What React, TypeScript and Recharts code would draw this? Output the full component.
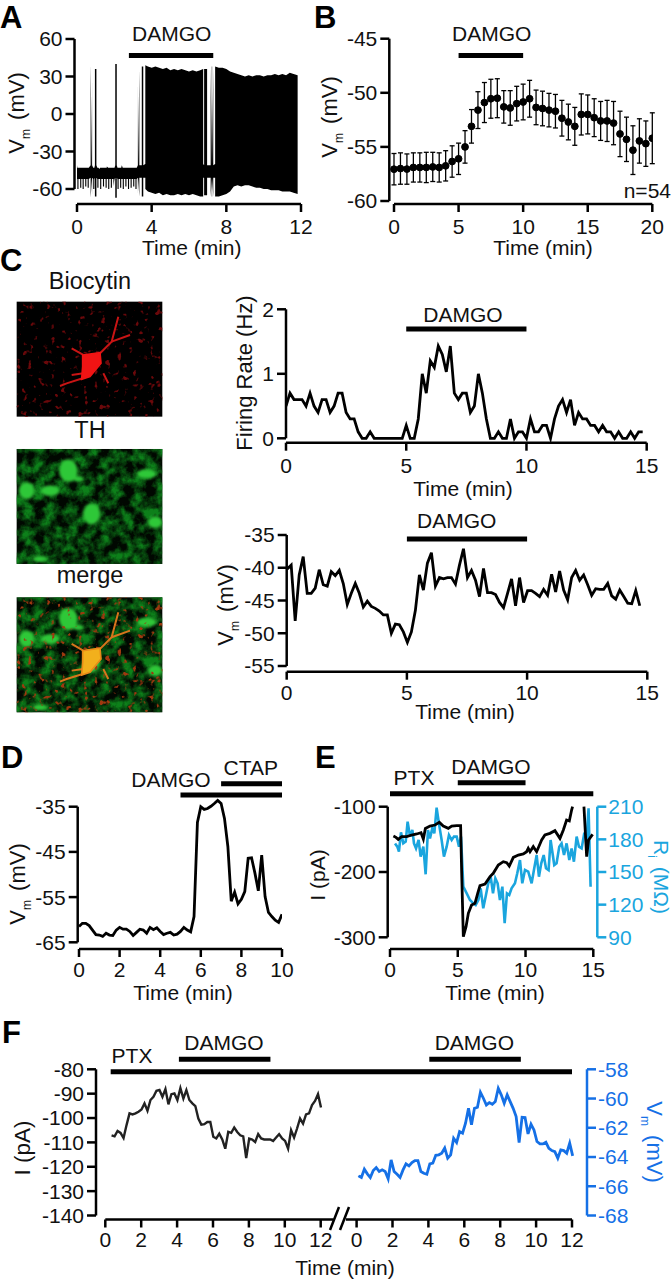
import React from "react";
import { Area, ComposedChart, ErrorBar, Line, ReferenceLine, XAxis, YAxis } from "recharts";

const FONT = "'Liberation Sans', Arial, sans-serif";
const INK = "#111";
const SKY = "#1AA5DE";
const BLUE = "#1570E6";
const TIME_STEP = 1 / 6;

// panel A: envelope of the voltage trace
const aBandTimes = [0, 0.4, 0.8, 1.2, 1.6, 2, 2.4, 2.8, 3.2, 3.27, 3.66, 3.66, 3.8, 4, 4.2, 4.4, 4.6, 4.8, 5, 5.2, 5.4, 5.6, 5.8, 6, 6.2, 6.4, 6.6, 6.76, 6.76, 7.4, 7.4, 7.6, 7.8, 8, 8.2, 8.4, 8.6, 8.8, 9, 9.2, 9.4, 9.6, 9.8, 10, 10.2, 10.4, 10.6, 10.8, 11, 11.2, 11.4, 11.6, 11.82];
const aBandLows = [-52, -52, -52, -52, -52, -52, -52, -52, -52, -51, -51, -60, -62, -63, -64, -63, -65, -64, -65, -65, -64, -65, -64, -65, -64, -65, -66, -66, -51, -51, -66, -66, -65, -64, -62, -58, -57, -58, -57, -57, -58, -59, -59, -60, -60, -61, -61, -61, -62, -62, -62, -63, -64];
const aBandHighs = [-41, -43, -43, -44, -42, -43, -41, -43, -43, -42, -40, 39, 38, 37, 38, 37, 36, 37, 35, 36, 35, 36, 35, 34, 35, 34, 35, 36, -40, -40, 38, 37, 37, 36, 34, 33, 32, 31, 30, 31, 30, 31, 31, 30, 31, 31, 32, 31, 32, 31, 33, 32, 31];
const aSpikeTimes = [0.77, 1, 2.09, 3.3, 3.51, 6.85, 6.93, 7.2, 7.26];
const aSpikeLows = [-67, -66, -67, -66, -66, -65, -65, -66, -66];
const aSpikeHighs = [40, 36, 40, 36, 38, 36, 36, 38, 38];
const aDipTimes = [0.05, 0.2, 0.33, 0.47, 0.6, 0.9, 1.12, 1.27, 1.42, 1.56, 1.7, 1.84, 1.98, 2.2, 2.34, 2.48, 2.62, 2.76, 2.9, 3.04, 3.16];
const aDipLows = [-60, -59, -60, -58, -59, -60, -59, -60, -58, -59, -60, -59, -58, -60, -59, -60, -58, -60, -59, -58, -60];

// panel B: mean +/- SEM every 30 s
const bTimes = [0, 0.5, 1, 1.5, 2, 2.5, 3, 3.5, 4, 4.5, 5, 5.5, 6, 6.5, 7, 7.5, 8, 8.5, 9, 9.5, 10, 10.5, 11, 11.5, 12, 12.5, 13, 13.5, 14, 14.5, 15, 15.5, 16, 16.5, 17, 17.5, 18, 18.5, 19, 19.5, 20];
const bVm = [-57.06, -57, -57.05, -56.9, -56.9, -56.9, -56.85, -56.9, -56.75, -56.35, -56.1, -55, -53.1, -51.6, -50.9, -50.55, -50.5, -51.3, -51.4, -51, -50.85, -50.55, -51.35, -51.45, -51.6, -51.7, -52.35, -52.7, -53.1, -52, -52, -52.3, -52.6, -52.6, -52.8, -53.8, -54.3, -55.3, -54.45, -54.7, -54.2];
const bSem = [1.45, 1.45, 1.4, 1.35, 1.35, 1.4, 1.35, 1.35, 1.4, 1.45, 1.45, 1.5, 1.55, 1.7, 1.85, 1.8, 1.8, 1.5, 1.6, 1.6, 1.65, 1.7, 1.6, 1.6, 1.55, 1.55, 1.65, 1.65, 1.75, 1.9, 1.8, 1.75, 1.8, 1.9, 2, 2.1, 2.05, 2.25, 2.05, 2.1, 2.35];

// panel C
const cRate = [0.5, 0.7, 0.6, 0.6, 0.6, 0.5, 0.7, 0.5, 0.4, 0.6, 0.6, 0.4, 0.5, 0.7, 0.7, 0.4, 0.3, 0.3, 0.1, 0, 0, 0.1, 0, 0, 0, 0, 0, 0, 0, 0, 0.2, 0, 0, 0.3, 1, 0.7, 1.2, 1.1, 1.43, 1.3, 1.03, 1.43, 0.7, 0.6, 0.7, 0.7, 0.4, 0.5, 1, 0.7, 0.3, 0, 0, 0.1, 0, 0, 0.3, 0, 0.1, 0.1, 0, 0.3, 0.1, 0.1, 0.2, 0.2, 0, 0.3, 0.5, 0.6, 0.4, 0.6, 0.2, 0.4, 0.3, 0.3, 0.2, 0.2, 0.1, 0.2, 0.1, 0.1, 0, 0.1, 0, 0, 0.1, 0, 0.1, 0.1];
const cVm = [-40.2, -39.6, -48.1, -41.1, -38.3, -43.9, -43.9, -43.1, -40.3, -42.6, -42.8, -40.6, -41.2, -40.4, -42.4, -45.6, -43.9, -42.4, -43.9, -46, -45.1, -45.9, -46.2, -46.6, -47.2, -47.2, -50, -48.6, -48.7, -49.8, -51.4, -49.8, -46.5, -41.1, -43.4, -39.3, -37.7, -42.8, -41.5, -41.7, -41.5, -41.5, -42.5, -39.6, -37.1, -41.5, -40.4, -41.9, -44.4, -40.1, -43.8, -43.8, -44.1, -45.3, -46.1, -43.9, -41.7, -45.8, -41.5, -45.3, -43.5, -43.5, -43.9, -44.4, -43.3, -44.2, -41, -43.7, -40.5, -43.4, -44.9, -41.5, -40.4, -41.9, -41.1, -42.6, -44.2, -43.2, -43.3, -43.3, -42.4, -44.3, -44.8, -43.4, -44.4, -45.4, -45.5, -43.5, -45.8];

// panel D
const dVm = [-61.5, -60.8, -60.8, -61.3, -62.3, -63.3, -63.4, -63.7, -63, -63.4, -63.5, -62.3, -61.7, -62.1, -62.1, -62.6, -63.5, -62.8, -62.1, -62.3, -63, -61.7, -62.2, -61.8, -62.6, -63.3, -63, -62.8, -63.4, -63.2, -62.6, -61.7, -62.3, -62.7, -59.3, -38.5, -35, -35.6, -35.4, -34.9, -34.3, -33.6, -34.3, -37.6, -43.8, -55.9, -53.9, -56.5, -55.5, -53.8, -46.4, -46.3, -49.7, -53.6, -45.7, -54.9, -58.4, -59.3, -60.1, -60.6, -58.8];

// panel E
const eCurrentTimes = [0.25, 0.44, 0.61, 0.86, 1.23, 1.6, 1.97, 2.29, 2.46, 2.61, 2.95, 3.32, 3.64, 3.93, 4.3, 4.55, 4.92, 5.21, 5.29, 5.41, 5.61, 5.78, 6.02, 6.27, 6.47, 6.64, 7.01, 7.38, 7.62, 7.99, 8.36, 8.61, 8.8, 9.1, 9.47, 9.84, 10.08, 10.2, 10.33, 10.57, 10.82, 11.19, 11.43, 11.8, 12.17, 12.54, 12.79, 13.03, 13.23, 13.4, 13.47, 14, 14.31, 14.51, 14.65, 14.95];
const eCurrent = [-144.9, -146.9, -150, -145.9, -145.9, -143.4, -141.8, -139.8, -149.5, -133.2, -129.6, -128.1, -124, -129.6, -133.2, -129.6, -129.1, -129.1, -202, -299, -283.7, -263.3, -250.5, -248, -232.7, -220.9, -218.4, -207.1, -202, -189.3, -184.2, -185.7, -190.8, -177.6, -174, -172.4, -168.9, -163.8, -168.9, -161.2, -168.9, -151, -143.4, -140.8, -136.7, -148.5, -135.7, -120.4, -121.9, -105.1, -100, null, -100, -176.5, -151, -142.3];
const eRiTimes = [0.37, 0.54, 0.66, 0.81, 0.98, 1.16, 1.3, 1.48, 1.65, 1.77, 1.92, 2.11, 2.26, 2.46, 2.63, 2.8, 2.95, 3.12, 3.27, 3.44, 3.61, 3.81, 3.98, 4.18, 4.35, 4.55, 4.72, 4.92, 5.09, 5.24, 5.41, 5.66, 5.9, 6.15, 6.32, 6.52, 6.69, 6.88, 7.08, 7.25, 7.43, 7.6, 7.77, 7.94, 8.11, 8.29, 8.46, 8.63, 8.8, 8.97, 9.22, 9.39, 9.59, 9.76, 9.96, 10.2, 10.45, 10.62, 10.82, 10.99, 11.16, 11.34, 11.51, 11.7, 11.85, 12.12, 12.29, 12.49, 12.66, 12.84, 13.03, 13.23, 13.4, 13.57, 13.77, 13.94, 14.14, 14.31, 14.51, 14.65, 14.8];
const eRi = [176.3, 173.3, 168.7, 186.4, 176.3, 177.9, 196.2, 182.5, 188.6, 176.3, 171.7, 179.4, 164.1, 173.3, 147.9, 188.6, 180.9, 190.1, 185.5, 209.1, 194.7, 179.4, 164.1, 173.3, 184, 179.4, 182.5, 182.5, 173.3, 182.5, 136.5, 130.4, 124.3, 121.2, 119.7, 124.3, 135, 116.6, 128.9, 139.6, 145.7, 130.4, 144.2, 139.6, 124.3, 136.5, 102.9, 130.4, 128.9, 135, 139.6, 148.8, 161, 139.6, 151.8, 150.3, 139.6, 151.8, 165.6, 145.7, 158, 165.6, 153.4, 151.8, 179.4, 156.4, 158, 173.3, 176.3, 165.6, 176.3, 161, 171.7, 159.5, 182.5, 173.3, 171.7, 184, 180.9, 208.5, 136.5];

// panel F: the second half sits on the same time axis, shifted past the break
const F_BREAK_SHIFT = 14;
const fTicks = [0, 2, 4, 6, 8, 10, 12, 14, 16, 18, 20, 22, 24, 26];
const fCurrent = [-107.1, -107.5, -105.3, -106.1, -108.2, -102.9, -98.1, -98.5, -98.1, -97.4, -96.5, -94, -97, -92.6, -91.3, -88.8, -88.5, -91.3, -88.1, -94.4, -90.2, -89.9, -92.6, -87.7, -92, -88.5, -92.6, -94, -95.1, -100.2, -102.7, -102.5, -101.6, -101.6, -107.7, -108.4, -106.4, -108.8, -112.6, -105.7, -106.1, -103.9, -105.7, -107.1, -107.5, -116.4, -108.4, -108.8, -109.8, -106.6, -108.4, -108.8, -108.8, -108.8, -109.4, -108, -106.6, -108.4, -109.4, -112.6, -105, -108, -104.3, -100.2, -102.3, -98.5, -98.1, -94.7, -93, -90.2, -95.7];
const fVm = [-65.29, -65.4, -64.83, -65.15, -65.4, -64.92, -64.72, -64.99, -64.88, -64.99, -65.49, -64.2, -64.99, -65.18, -65.4, -64.88, -64.47, -64.61, -64.38, -64.24, -64.24, -64.99, -65.11, -65.18, -64.47, -64.42, -63.88, -63.85, -63.74, -63.38, -64.08, -63.85, -62.72, -63.01, -62.26, -62.37, -61.69, -60.67, -61.8, -60.67, -60.6, -59.57, -59.98, -60.44, -60.28, -60.39, -60.21, -59.3, -59.75, -60.32, -59.75, -60.21, -60.67, -61.23, -63.01, -61.28, -61.3, -62.42, -61.76, -62.15, -62.94, -63.1, -63.1, -62.99, -63.4, -63.56, -63.63, -64.08, -63.51, -63.56, -63.74, -63.06, -63.92];

const zip = (times: number[], values: (number | null)[]) => times.map((t, i) => ({ t, v: values[i] }));
const sampled = (values: number[], start: number, step: number) =>
  values.map((v, i) => ({ t: start + i * step, v }));

// solid envelope + thin spikes/dips, all one range area
const buildARows = () => {
  const rows: { t: number; band: number[] }[] = aBandTimes.map((t, i) => ({ t, band: [aBandLows[i], aBandHighs[i]] }));
  const pulse = (t: number, lo: number, hi: number, baseLo: number, baseHi: number, half: number) => {
    rows.push({ t: t - half, band: [baseLo, baseHi] }, { t: t - half, band: [lo, hi] }, { t: t + half, band: [lo, hi] }, { t: t + half, band: [baseLo, baseHi] });
  };
  aDipTimes.forEach((t, i) => pulse(t, aDipLows[i], -43, -52, -43, 0.03));
  aSpikeTimes.forEach((t, i) => pulse(t, aSpikeLows[i], aSpikeHighs[i], -51, -41, 0.04));
  return rows.map((r, i) => ({ r, i })).sort((a, b) => a.r.t - b.r.t || a.i - b.i).map(({ r }) => r);
};

type Geom = {
  axisX: number; // px of the left axis line
  axisY: number; // px of the time axis line
  top: number; // px of the top of the plot region
  x0: number; x1: number; t0: number; t1: number;
  yTop: number; yBot: number; vTop: number; vBot: number;
  rightX?: number; rTop?: number; rBot?: number;
};

const scaleOf = (g: Geom) => {
  const right = g.rightX ?? g.x1;
  const tAt = (px: number) => g.t0 + ((px - g.x0) * (g.t1 - g.t0)) / (g.x1 - g.x0);
  const vAt = (px: number) => g.vTop + ((px - g.yTop) * (g.vBot - g.vTop)) / (g.yBot - g.yTop);
  const rAt = (px: number) => g.rTop! + ((px - g.yTop) * (g.rBot! - g.rTop!)) / (g.yBot - g.yTop);
  return { right, tAt, vAt, rAt };
};

function Panel({ g, xTicks, yTicks, rTicks, rColor, tickGap = 5, data, format, children }: {
  g: Geom; xTicks: number[]; yTicks: number[]; rTicks?: number[]; rColor?: string; tickGap?: number;
  data?: object[]; format?: (t: number) => string; children: React.ReactNode;
}) {
  const { right, tAt, vAt, rAt } = scaleOf(g);
  const tick = { fill: INK, fontSize: 21, fontFamily: FONT };
  const axisStroke = { stroke: "#000", strokeWidth: 2.5 };
  const vMin = vAt(g.axisY);
  return (
    <div style={{ position: "absolute", left: 0, top: 0 }}>
      <ComposedChart
        width={672}
        height={1280}
        data={data}
        margin={{ left: g.axisX - 60, top: g.top, right: 672 - right - (rTicks ? 60 : 0), bottom: 1280 - g.axisY - 60 }}
      >
        <XAxis
          dataKey="t"
          type="number"
          allowDataOverflow
          domain={[tAt(g.axisX), tAt(right)]}
          ticks={xTicks}
          interval={0}
          height={60}
          axisLine={false}
          tickLine={axisStroke}
          tickSize={8}
          tickMargin={tickGap}
          tick={tick}
          tickFormatter={format}
        />
        <YAxis
          yAxisId="left"
          type="number"
          allowDataOverflow
          domain={[vMin, vAt(g.top)]}
          ticks={yTicks}
          interval={0}
          width={60}
          axisLine={false}
          tickLine={axisStroke}
          tickSize={9}
          tickMargin={3}
          tick={tick}
        />
        {rTicks && (
          <YAxis
            yAxisId="right"
            orientation="right"
            type="number"
            allowDataOverflow
            domain={[rAt(g.axisY), rAt(g.top)]}
            ticks={rTicks}
            interval={0}
            width={60}
            axisLine={false}
            tickLine={{ stroke: rColor, strokeWidth: 2.5 }}
            tickSize={9}
            tickMargin={2}
            tick={{ ...tick, fill: rColor }}
          />
        )}
        <ReferenceLine yAxisId="left" ifOverflow="visible" stroke="#000" strokeWidth={2.5} segment={[{ x: tAt(g.axisX), y: g.vTop }, { x: tAt(g.axisX), y: g.vBot }]} />
        {rTicks && (
          <ReferenceLine yAxisId="right" ifOverflow="visible" stroke={rColor} strokeWidth={2.5} segment={[{ x: tAt(right), y: g.rTop! }, { x: tAt(right), y: g.rBot! }]} />
        )}
        {children}
      </ComposedChart>
    </div>
  );
}

const timeAxis = (g: Geom, from: number, to: number) => {
  const { vAt } = scaleOf(g);
  const v = vAt(g.axisY);
  return <ReferenceLine key={`axis-${from}`} yAxisId="left" ifOverflow="visible" stroke="#000" strokeWidth={2.5} segment={[{ x: from, y: v }, { x: to, y: v }]} />;
};

const drugBar = (g: Geom, t0: number, t1: number, yPx: number) => {
  const { vAt } = scaleOf(g);
  const v = vAt(yPx);
  return <ReferenceLine key={`drug-${t0}-${yPx}`} yAxisId="left" ifOverflow="visible" stroke="#000" strokeWidth={5} segment={[{ x: t0, y: v }, { x: t1, y: v }]} />;
};

const traceLine = (rows: object[], color: string, axis = "left", width = 2.8) => (
  <Line data={rows} dataKey="v" yAxisId={axis} stroke={color} strokeWidth={width} dot={false} isAnimationActive={false} strokeLinejoin="miter" connectNulls={false} type="linear" />
);

const gA: Geom = { axisX: 74.5, axisY: 204, top: 20, x0: 77, x1: 301, t0: 0, t1: 12, yTop: 39, yBot: 189, vTop: 60, vBot: -60 };
const gB: Geom = { axisX: 389.3, axisY: 204, top: 20, x0: 394, x1: 652.3, t0: 0, t1: 20, yTop: 38.7, yBot: 201, vTop: -45, vBot: -60 };
const gC1: Geom = { axisX: 286, axisY: 442.7, top: 300, x0: 286, x1: 646.7, t0: 0, t1: 15, yTop: 309.3, yBot: 438.3, vTop: 2, vBot: 0 };
const gC2: Geom = { axisX: 286.7, axisY: 671.7, top: 520, x0: 286.7, x1: 647.3, t0: 0, t1: 15, yTop: 535, yBot: 666, vTop: -35, vBot: -55 };
const gD: Geom = { axisX: 77.7, axisY: 949, top: 770, x0: 79, x1: 282, t0: 0, t1: 10, yTop: 806.7, yBot: 942.3, vTop: -35, vBot: -65 };
const gE: Geom = { axisX: 387.7, axisY: 949, top: 770, x0: 390, x1: 593.3, t0: 0, t1: 15, yTop: 806.7, yBot: 937.3, vTop: -100, vBot: -300, rightX: 597.3, rTop: 210, rBot: 90 };
const gF: Geom = { axisX: 96, axisY: 1219.5, top: 1050, x0: 105.3, x1: 572, t0: 0, t1: 26, yTop: 1069.3, yBot: 1215.5, vTop: -80, vBot: -140, rightX: 587, rTop: -58, rBot: -68 };

// overlay text helpers
const Caption = ({ x, y, children, color = INK, anchor = "middle", size = 21 }: { x: number; y: number; children: React.ReactNode; color?: string; anchor?: "middle" | "start" | "end"; size?: number }) => (
  <text x={x} y={y} fill={color} fontSize={size} fontFamily={FONT} textAnchor={anchor}>{children}</text>
);
const Letter = ({ x, y, children }: { x: number; y: number; children: string }) => (
  <text x={x} y={y} fill="#000" fontSize={31} fontWeight="bold" fontFamily={FONT}>{children}</text>
);
const SideLabel = ({ x, y, main, sub, rest, rotate = -90, color = INK, size = 21 }: { x: number; y: number; main: string; sub?: string; rest: string; rotate?: number; color?: string; size?: number }) => (
  <text transform={`translate(${x},${y}) rotate(${rotate})`} fill={color} fontSize={size} fontFamily={FONT} textAnchor="middle">
    {main}
    {sub && <tspan fontSize={12} dy={6}>{sub}</tspan>}
    <tspan dy={sub ? -6 : 0} dx={sub ? 3 : 0}>{rest}</tspan>
  </text>
);

const RED_CELL = "M248 285 L300 278 L303 310 L270 350 L245 358 L248 320 Z";
const RED_ARBOR = ["M295 285 L335 245 L355 170", "M335 245 L390 225", "M250 285 L215 265", "M248 355 L200 370 L180 378", "M250 340 L215 345", "M310 340 L325 370"];
const GREEN_BLOBS = [[205, 190, 28, 34], [235, 215, 16, 8], [80, 250, 24, 26], [150, 250, 28, 16], [465, 345, 22, 18], [440, 200, 30, 14], [120, 455, 22, 9], [275, 320, 26, 32]];

const RedField = ({ merged }: { merged?: boolean }) => (
  <g>
    <rect x={50} y={125} width={437} height={345} filter={merged ? "url(#fxOrange)" : "url(#fxRed)"} />
    {RED_ARBOR.map((d) => <path key={d} d={d} fill="none" stroke={merged ? "#D8741C" : "#C81414"} strokeWidth={6} />)}
    <path d={RED_CELL} fill={merged ? "#F2B01C" : "#F01414"} stroke={merged ? "#E88A18" : "#F01414"} strokeWidth={5} />
  </g>
);
const GreenField = () => (
  <g>
    <rect x={50} y={125} width={437} height={345} filter="url(#fxGreen)" />
    <g filter="url(#fxSoft)">
      {GREEN_BLOBS.map(([cx, cy, rx, ry]) => <ellipse key={`${cx}-${cy}`} cx={cx} cy={cy} rx={rx} ry={ry} fill="#2FC838" />)}
    </g>
  </g>
);

function Micrographs() {
  return (
    <g transform="translate(0,260) scale(0.3333)">
      <defs>
        <clipPath id="frame"><rect x={50} y={125} width={437} height={345} /></clipPath>
        <filter id="fxRed" x="0" y="0" width="1" height="1" colorInterpolationFilters="sRGB">
          <feTurbulence type="fractalNoise" baseFrequency="0.06" numOctaves="2" seed="4" />
          <feColorMatrix values="0 0 0 0 0.42  0 0 0 0 0.03  0 0 0 0 0.04  8 0 0 0 -5" />
          <feGaussianBlur stdDeviation="1.5" />
        </filter>
        <filter id="fxOrange" x="0" y="0" width="1" height="1" colorInterpolationFilters="sRGB">
          <feTurbulence type="fractalNoise" baseFrequency="0.06" numOctaves="2" seed="4" />
          <feColorMatrix values="0 0 0 0 0.62  0 0 0 0 0.22  0 0 0 0 0.06  8 0 0 0 -5" />
          <feGaussianBlur stdDeviation="1.5" />
        </filter>
        <filter id="fxGreen" x="0" y="0" width="1" height="1" colorInterpolationFilters="sRGB">
          <feTurbulence type="fractalNoise" baseFrequency="0.03" numOctaves="4" seed="9" />
          <feColorMatrix values="0 0 0 0 0.05  0 0 0 0 0.5  0 0 0 0 0.1  2.4 0 0 0 -0.8" />
          <feGaussianBlur stdDeviation="1.5" />
        </filter>
        <filter id="fxSoft"><feGaussianBlur stdDeviation="5" /></filter>
      </defs>
      <rect x={50} y={125} width={437} height={345} fill="#000" />
      <g clipPath="url(#frame)"><RedField /></g>
      <g transform="translate(0,442)">
        <rect x={50} y={125} width={437} height={345} fill="#010801" />
        <g clipPath="url(#frame)"><GreenField /></g>
      </g>
      <g transform="translate(0,887)">
        <rect x={50} y={125} width={437} height={345} fill="#010801" />
        <g clipPath="url(#frame)"><GreenField /><RedField merged /></g>
      </g>
    </g>
  );
}

const aRows = buildARows();
const bRows = bTimes.map((t, i) => ({ t, v: bVm[i], err: bSem[i] }));

export default function App() {
  return (
    <div style={{ position: "absolute", left: 0, top: 0, width: 672, height: 1280, background: "#fff", overflow: "hidden" }}>
      <svg width={672} height={1280} style={{ position: "absolute", left: 0, top: 0 }}>
        <Micrographs />
        <Letter x={0} y={28}>A</Letter>
        <Letter x={314} y={28}>B</Letter>
        <Letter x={0} y={271}>C</Letter>
        <Letter x={1} y={768}>D</Letter>
        <Letter x={315} y={768}>E</Letter>
        <Letter x={2} y={1043}>F</Letter>

        <Caption x={171.7} y={41}>DAMGO</Caption>
        <Caption x={491.7} y={41}>DAMGO</Caption>
        <Caption x={463} y={322}>DAMGO</Caption>
        <Caption x={456.7} y={528}>DAMGO</Caption>
        <Caption x={171} y={787}>DAMGO</Caption>
        <Caption x={250.7} y={775}>CTAP</Caption>
        <Caption x={491} y={774}>DAMGO</Caption>
        <Caption x={414} y={785}>PTX</Caption>
        <Caption x={224} y={1050}>DAMGO</Caption>
        <Caption x={474.3} y={1050}>DAMGO</Caption>
        <Caption x={132} y={1063}>PTX</Caption>

        <Caption x={90} y={289} size={23.5}>Biocytin</Caption>
        <Caption x={90} y={438} size={23.5}>TH</Caption>
        <Caption x={90} y={583} size={23.5}>merge</Caption>
        <Caption x={671} y={198} anchor="end">n=54</Caption>

        <Caption x={191.7} y={255}>Time (min)</Caption>
        <Caption x={543} y={255}>Time (min)</Caption>
        <Caption x={463} y={496}>Time (min)</Caption>
        <Caption x={465} y={719}>Time (min)</Caption>
        <Caption x={183} y={1000}>Time (min)</Caption>
        <Caption x={495} y={1000}>Time (min)</Caption>
        <Caption x={345} y={1275}>Time (min)</Caption>

        <SideLabel x={24} y={113} main="V" sub="m" rest=" (mV)" size={22} />
        <SideLabel x={336.7} y={117} main="V" sub="m" rest=" (mV)" size={22} />
        <SideLabel x={251.7} y={373} main="Firing Rate (Hz)" rest="" size={22} />
        <SideLabel x={233} y={605} main="V" sub="m" rest=" (mV)" size={22} />
        <SideLabel x={25} y={884} main="V" sub="m" rest=" (mV)" size={22} />
        <SideLabel x={325} y={875} main="I (pA)" rest="" />
        <SideLabel x={654} y={877} main="R" sub="i" rest=" (MΩ)" rotate={90} color={SKY} />
        <SideLabel x={30} y={1148} main="I (pA)" rest="" size={22.5} />
        <SideLabel x={647} y={1142} main="V" sub="m" rest=" (mV)" rotate={90} color={BLUE} size={22} />

        {/* axis break */}
        <path d="M330 1230 L339 1207 M340 1230 L349 1207" stroke="#000" strokeWidth={2.5} fill="none" />
      </svg>

      <Panel g={gA} xTicks={[0, 4, 8, 12]} yTicks={[60, 30, 0, -30, -60]} data={aRows} tickGap={7}>
        <Area dataKey="band" yAxisId="left" type="linear" stroke="none" fill="#000" fillOpacity={1} dot={false} activeDot={false} isAnimationActive={false} />
        {timeAxis(gA, 0, 12)}
        {drugBar(gA, 2.78, 7.3, 55.5)}
      </Panel>

      <Panel g={gB} xTicks={[0, 5, 10, 15, 20]} yTicks={[-45, -50, -55, -60]} data={bRows} tickGap={7}>
        <Line dataKey="v" yAxisId="left" stroke="none" dot={{ r: 3.4, fill: "#000", stroke: "#000" }} isAnimationActive={false}>
          <ErrorBar dataKey="err" direction="y" width={2.5} stroke="#000" strokeWidth={1.3} isAnimationActive={false} />
        </Line>
        {timeAxis(gB, 0, 20)}
        {drugBar(gB, 5, 10, 55.5)}
      </Panel>

      <Panel g={gC1} xTicks={[0, 5, 10, 15]} yTicks={[2, 1, 0]} tickGap={7}>
        {traceLine(sampled(cRate, 0, TIME_STEP), "#000")}
        {timeAxis(gC1, 0, 15)}
        {drugBar(gC1, 5, 10, 329)}
      </Panel>

      <Panel g={gC2} xTicks={[0, 5, 10, 15]} yTicks={[-35, -40, -45, -50, -55]} tickGap={5}>
        {traceLine(sampled(cVm, 0.02, TIME_STEP), "#000")}
        {timeAxis(gC2, 0, 15)}
        {drugBar(gC2, 5, 10, 539)}
      </Panel>

      <Panel g={gD} xTicks={[0, 2, 4, 6, 8, 10]} yTicks={[-35, -45, -55, -65]}>
        {traceLine(sampled(dVm, 0, TIME_STEP), "#000")}
        {timeAxis(gD, 0, 10)}
        {drugBar(gD, 5, 10, 795)}
        {drugBar(gD, 7, 10, 783.7)}
      </Panel>

      <Panel g={gE} xTicks={[0, 5, 10, 15]} yTicks={[-100, -200, -300]} rTicks={[210, 180, 150, 120, 90]} rColor={SKY}>
        {traceLine(zip(eRiTimes, eRi), SKY, "right", 2.6)}
        {traceLine(zip(eCurrentTimes, eCurrent), "#000")}
        {timeAxis(gE, 0, 15)}
        {drugBar(gE, 0, 15, 793.7)}
        {drugBar(gE, 5, 10, 782.7)}
      </Panel>

      <Panel
        g={gF}
        xTicks={fTicks}
        yTicks={[-80, -90, -100, -110, -120, -130, -140]}
        rTicks={[-58, -60, -62, -64, -66, -68]}
        rColor={BLUE}
        format={(t) => String(t >= F_BREAK_SHIFT ? t - F_BREAK_SHIFT : t)}
      >
        {traceLine(sampled(fCurrent, 0.35, TIME_STEP), "#222", "left", 2.4)}
        {traceLine(sampled(fVm, F_BREAK_SHIFT + 0.1, 0.1658), BLUE, "right", 2.8)}
        {timeAxis(gF, 0, 12.7)}
        {timeAxis(gF, 13.4, 26)}
        {drugBar(gF, 0.3, 26, 1071.7)}
        {drugBar(gF, 4.1, 9.2, 1059.3)}
        {drugBar(gF, 18.05, 23.15, 1059.3)}
      </Panel>
    </div>
  );
}
